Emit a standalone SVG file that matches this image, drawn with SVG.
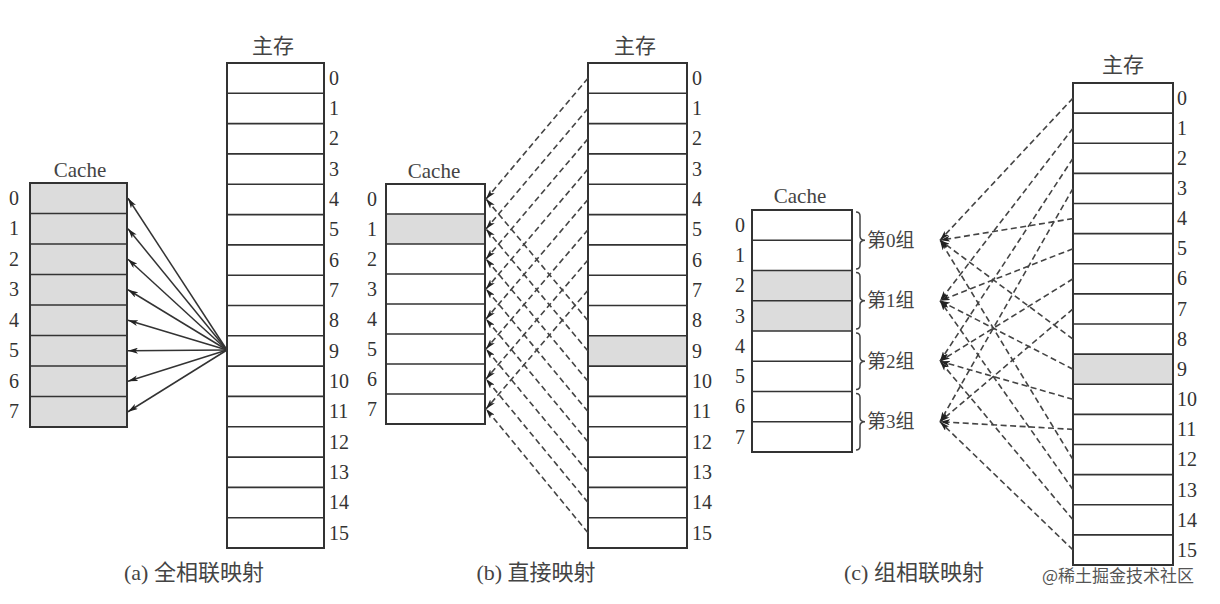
<svg xmlns="http://www.w3.org/2000/svg" width="1220" height="604" viewBox="0 0 1220 604">
<defs>
<style>
.bg{fill:#fff}
.box{fill:#fff;stroke:#333;stroke-width:2}
.shade{fill:#dcdcdc;stroke:none}
.row{stroke:#333;stroke-width:1.6}
.num{font-family:"Liberation Serif","Noto Sans CJK SC",serif;font-size:20px;fill:#333}
.numc{font-family:"Liberation Serif","Noto Sans CJK SC",serif;font-size:20px;fill:#333;text-anchor:middle}
.ttl{font-family:"Liberation Serif","Noto Sans CJK SC",serif;font-size:21px;fill:#444;text-anchor:middle}
.cjk{font-family:"Liberation Serif","Noto Sans CJK SC",sans-serif;font-size:21px;fill:#444;text-anchor:middle}
.grp{font-family:"Liberation Serif","Noto Sans CJK SC",sans-serif;font-size:19px;fill:#444}
.cap{font-family:"Liberation Serif","Noto Sans CJK SC",sans-serif;font-size:22px;fill:#444;text-anchor:middle}
.wm{font-family:"Noto Sans CJK SC",sans-serif;font-size:17px;fill:#555}
.solid{stroke:#333;stroke-width:1.5;fill:none}
.dash{stroke:#444;stroke-width:1.6;fill:none;stroke-dasharray:6 3.5}
.brace{stroke:#444;stroke-width:1.5;fill:none}
</style>
<marker id="ah" viewBox="0 0 10 6" refX="10" refY="3" markerWidth="10" markerHeight="6" markerUnits="userSpaceOnUse" orient="auto">
<path d="M0,0 L10,3 L0,6 L2.5,3 Z" fill="#222"/>
</marker>
</defs>
<rect class="bg" x="0" y="0" width="1220" height="604"/>

<!-- (a) full associative -->
<g id="a-cache">
<text class="ttl" x="80" y="177">Cache</text>
<rect class="shade" x="30" y="183" width="97" height="244"/>
<rect class="box" x="30" y="183" width="97" height="244" style="fill:none"/>
<path class="row" d="M30,213.5H127M30,244H127M30,274.5H127M30,305H127M30,335.5H127M30,366H127M30,396.5H127"/>
<text class="numc" x="14" y="205">0</text><text class="numc" x="14" y="235">1</text><text class="numc" x="14" y="266">2</text><text class="numc" x="14" y="296">3</text><text class="numc" x="14" y="327">4</text><text class="numc" x="14" y="357">5</text><text class="numc" x="14" y="388">6</text><text class="numc" x="14" y="418">7</text>
</g>
<g id="a-mem">
<text class="cjk" x="273" y="53">主存</text>
<rect class="box" x="227" y="63" width="97" height="485"/>
<path class="row" d="M227,93.3H324M227,123.6H324M227,153.9H324M227,184.3H324M227,214.6H324M227,244.9H324M227,275.2H324M227,305.5H324M227,335.8H324M227,366.1H324M227,396.4H324M227,426.8H324M227,457.1H324M227,487.4H324M227,517.7H324"/>
<text class="num" x="329" y="85">0</text><text class="num" x="329" y="115">1</text><text class="num" x="329" y="145">2</text><text class="num" x="329" y="176">3</text><text class="num" x="329" y="206">4</text><text class="num" x="329" y="236">5</text><text class="num" x="329" y="267">6</text><text class="num" x="329" y="297">7</text><text class="num" x="329" y="327">8</text><text class="num" x="329" y="358">9</text><text class="num" x="329" y="388">10</text><text class="num" x="329" y="418">11</text><text class="num" x="329" y="449">12</text><text class="num" x="329" y="479">13</text><text class="num" x="329" y="509">14</text><text class="num" x="329" y="540">15</text>
</g>
<text class="cap" x="194" y="580">(a) 全相联映射</text>

<!-- (b) direct -->
<g id="b-cache">
<text class="ttl" x="434" y="178">Cache</text>
<rect class="shade" x="386" y="214" width="99" height="30"/>
<rect class="box" x="386" y="184" width="99" height="240" style="fill:none"/>
<path class="row" d="M386,214H485M386,244H485M386,274H485M386,304H485M386,334H485M386,364H485M386,394H485"/>
<text class="numc" x="372" y="206">0</text><text class="numc" x="372" y="236">1</text><text class="numc" x="372" y="266">2</text><text class="numc" x="372" y="296">3</text><text class="numc" x="372" y="326">4</text><text class="numc" x="372" y="356">5</text><text class="numc" x="372" y="386">6</text><text class="numc" x="372" y="416">7</text>
</g>
<g id="b-mem">
<text class="cjk" x="635" y="53">主存</text>
<rect class="box" x="588" y="63" width="99" height="485"/>
<rect class="shade" x="589" y="336" width="97" height="30"/>
<path class="row" d="M588,93.3H687M588,123.6H687M588,153.9H687M588,184.3H687M588,214.6H687M588,244.9H687M588,275.2H687M588,305.5H687M588,335.8H687M588,366.1H687M588,396.4H687M588,426.8H687M588,457.1H687M588,487.4H687M588,517.7H687"/>
<text class="num" x="692" y="85">0</text><text class="num" x="692" y="115">1</text><text class="num" x="692" y="145">2</text><text class="num" x="692" y="176">3</text><text class="num" x="692" y="206">4</text><text class="num" x="692" y="236">5</text><text class="num" x="692" y="267">6</text><text class="num" x="692" y="297">7</text><text class="num" x="692" y="327">8</text><text class="num" x="692" y="358">9</text><text class="num" x="692" y="388">10</text><text class="num" x="692" y="418">11</text><text class="num" x="692" y="449">12</text><text class="num" x="692" y="479">13</text><text class="num" x="692" y="509">14</text><text class="num" x="692" y="540">15</text>
</g>
<text class="cap" x="536" y="580">(b) 直接映射</text>

<!-- (c) set associative -->
<g id="c-cache">
<text class="ttl" x="800" y="203">Cache</text>
<rect class="shade" x="752" y="270.5" width="100" height="60.5"/>
<rect class="box" x="752" y="210" width="100" height="242" style="fill:none"/>
<path class="row" d="M752,240.25H852M752,270.5H852M752,300.75H852M752,331H852M752,361.25H852M752,391.5H852M752,421.75H852"/>
<text class="numc" x="740" y="232">0</text><text class="numc" x="740" y="262">1</text><text class="numc" x="740" y="292">2</text><text class="numc" x="740" y="323">3</text><text class="numc" x="740" y="353">4</text><text class="numc" x="740" y="383">5</text><text class="numc" x="740" y="413">6</text><text class="numc" x="740" y="444">7</text>
</g>
<g id="set0">
<path class="brace" d="M856,212 Q860,212 860,216 L860,236 Q860,240.25 865,240.25 Q860,240.25 860,244.5 L860,265 Q860,269 856,269"/>
<text class="grp" x="867" y="247">第0组</text>
</g>
<g id="set1">
<path class="brace" d="M856,272.5 Q860,272.5 860,276.5 L860,296.5 Q860,300.75 865,300.75 Q860,300.75 860,305 L860,325 Q860,329 856,329"/>
<text class="grp" x="867" y="307">第1组</text>
</g>
<g id="set2">
<path class="brace" d="M856,333 Q860,333 860,337 L860,357 Q860,361.25 865,361.25 Q860,361.25 860,365.5 L860,385.5 Q860,389.5 856,389.5"/>
<text class="grp" x="867" y="368">第2组</text>
</g>
<g id="set3">
<path class="brace" d="M856,393.5 Q860,393.5 860,397.5 L860,417.5 Q860,421.75 865,421.75 Q860,421.75 860,426 L860,446 Q860,450 856,450"/>
<text class="grp" x="867" y="428">第3组</text>
</g>
<g id="c-mem">
<text class="cjk" x="1123" y="72">主存</text>
<rect class="box" x="1073" y="83" width="100" height="482"/>
<rect class="shade" x="1074" y="354.1" width="98" height="30.2"/>
<path class="row" d="M1073,113.1H1173M1073,143.3H1173M1073,173.4H1173M1073,203.5H1173M1073,233.6H1173M1073,263.8H1173M1073,293.9H1173M1073,324H1173M1073,354.1H1173M1073,384.3H1173M1073,414.4H1173M1073,444.5H1173M1073,474.6H1173M1073,504.8H1173M1073,534.9H1173"/>
<text class="num" x="1177" y="105">0</text><text class="num" x="1177" y="135">1</text><text class="num" x="1177" y="165">2</text><text class="num" x="1177" y="195">3</text><text class="num" x="1177" y="225">4</text><text class="num" x="1177" y="255">5</text><text class="num" x="1177" y="285">6</text><text class="num" x="1177" y="316">7</text><text class="num" x="1177" y="346">8</text><text class="num" x="1177" y="376">9</text><text class="num" x="1177" y="406">10</text><text class="num" x="1177" y="436">11</text><text class="num" x="1177" y="466">12</text><text class="num" x="1177" y="497">13</text><text class="num" x="1177" y="527">14</text><text class="num" x="1177" y="557">15</text>
</g>
<text class="cap" x="914" y="580">(c) 组相联映射</text>

<g id="connectors">
<!-- (a) -->
<line class="solid" marker-end="url(#ah)" x1="227" y1="350" x2="128" y2="198.25"/>
<line class="solid" marker-end="url(#ah)" x1="227" y1="350" x2="128" y2="228.75"/>
<line class="solid" marker-end="url(#ah)" x1="227" y1="350" x2="128" y2="259.25"/>
<line class="solid" marker-end="url(#ah)" x1="227" y1="350" x2="128" y2="289.75"/>
<line class="solid" marker-end="url(#ah)" x1="227" y1="350" x2="128" y2="320.25"/>
<line class="solid" marker-end="url(#ah)" x1="227" y1="350" x2="128" y2="350.75"/>
<line class="solid" marker-end="url(#ah)" x1="227" y1="350" x2="128" y2="381.25"/>
<line class="solid" marker-end="url(#ah)" x1="227" y1="350" x2="128" y2="411.75"/>
<!-- (b) -->
<line class="dash" marker-end="url(#ah)" x1="588" y1="78.2" x2="486" y2="199"/>
<line class="dash" marker-end="url(#ah)" x1="588" y1="108.5" x2="486" y2="229"/>
<line class="dash" marker-end="url(#ah)" x1="588" y1="138.8" x2="486" y2="259"/>
<line class="dash" marker-end="url(#ah)" x1="588" y1="169.1" x2="486" y2="289"/>
<line class="dash" marker-end="url(#ah)" x1="588" y1="199.4" x2="486" y2="319"/>
<line class="dash" marker-end="url(#ah)" x1="588" y1="229.7" x2="486" y2="349"/>
<line class="dash" marker-end="url(#ah)" x1="588" y1="260" x2="486" y2="379"/>
<line class="dash" marker-end="url(#ah)" x1="588" y1="290.3" x2="486" y2="409"/>
<line class="dash" marker-end="url(#ah)" x1="588" y1="320.7" x2="486" y2="199"/>
<line class="dash" marker-end="url(#ah)" x1="588" y1="351" x2="486" y2="229"/>
<line class="dash" marker-end="url(#ah)" x1="588" y1="381.3" x2="486" y2="259"/>
<line class="dash" marker-end="url(#ah)" x1="588" y1="411.6" x2="486" y2="289"/>
<line class="dash" marker-end="url(#ah)" x1="588" y1="441.9" x2="486" y2="319"/>
<line class="dash" marker-end="url(#ah)" x1="588" y1="472.2" x2="486" y2="349"/>
<line class="dash" marker-end="url(#ah)" x1="588" y1="502.5" x2="486" y2="379"/>
<line class="dash" marker-end="url(#ah)" x1="588" y1="532.8" x2="486" y2="409"/>
<!-- (c) -->
<line class="dash" marker-end="url(#ah)" x1="1073" y1="98.1" x2="940" y2="240.25"/>
<line class="dash" marker-end="url(#ah)" x1="1073" y1="128.2" x2="940" y2="300.75"/>
<line class="dash" marker-end="url(#ah)" x1="1073" y1="158.3" x2="940" y2="361.25"/>
<line class="dash" marker-end="url(#ah)" x1="1073" y1="188.4" x2="940" y2="421.75"/>
<line class="dash" marker-end="url(#ah)" x1="1073" y1="218.6" x2="940" y2="240.25"/>
<line class="dash" marker-end="url(#ah)" x1="1073" y1="248.7" x2="940" y2="300.75"/>
<line class="dash" marker-end="url(#ah)" x1="1073" y1="278.8" x2="940" y2="361.25"/>
<line class="dash" marker-end="url(#ah)" x1="1073" y1="308.9" x2="940" y2="421.75"/>
<line class="dash" marker-end="url(#ah)" x1="1073" y1="339.1" x2="940" y2="240.25"/>
<line class="dash" marker-end="url(#ah)" x1="1073" y1="369.2" x2="940" y2="300.75"/>
<line class="dash" marker-end="url(#ah)" x1="1073" y1="399.3" x2="940" y2="361.25"/>
<line class="dash" marker-end="url(#ah)" x1="1073" y1="429.4" x2="940" y2="421.75"/>
<line class="dash" marker-end="url(#ah)" x1="1073" y1="459.6" x2="940" y2="240.25"/>
<line class="dash" marker-end="url(#ah)" x1="1073" y1="489.7" x2="940" y2="300.75"/>
<line class="dash" marker-end="url(#ah)" x1="1073" y1="519.8" x2="940" y2="361.25"/>
<line class="dash" marker-end="url(#ah)" x1="1073" y1="549.9" x2="940" y2="421.75"/>
</g>
<text class="wm" x="1042" y="582">@稀土掘金技术社区</text>
</svg>
